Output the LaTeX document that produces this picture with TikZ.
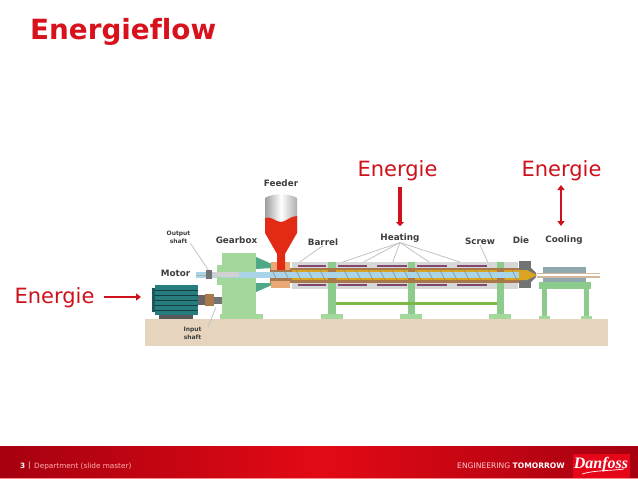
\documentclass[tikz,border=0pt]{standalone}
\usepackage{fontspec}
\setmainfont{DejaVu Sans}[Ligatures=NoCommon]
\newfontfamily\logofont{Liberation Serif}
\usetikzlibrary{arrows.meta,calc}
\definecolor{dfred}{HTML}{CE111B}
\definecolor{titlered}{HTML}{D8121C}
\definecolor{basec}{HTML}{E6D4BE}
\definecolor{greenl}{HTML}{A3D79C}
\definecolor{greenm}{HTML}{8CCB8C}
\definecolor{railc}{HTML}{7DB946}
\definecolor{labelc}{HTML}{3E3E3E}
\definecolor{leader}{HTML}{BFC4C6}
\definecolor{barrelg}{HTML}{D6D8D8}
\definecolor{heaterc}{HTML}{83466E}
\definecolor{brownc}{HTML}{A9784A}
\definecolor{screwc}{HTML}{A9D3E6}
\definecolor{tealc}{HTML}{277C7E}
\definecolor{armc}{HTML}{4FA888}
\definecolor{goldc}{HTML}{D9A520}
\definecolor{orangec}{HTML}{EBA877}
\definecolor{feedred}{HTML}{E22B14}
\definecolor{footdark}{HTML}{A60010}
\definecolor{footbright}{HTML}{E20A15}
\definecolor{logored}{HTML}{E6061A}
\definecolor{coolc}{HTML}{8FA8AE}
\tikzset{
  x=1pt,y=-1pt,
  mach/.style={font=\bfseries\fontsize{8.8}{9}\selectfont,text=labelc,inner sep=0pt,align=center},
  small/.style={font=\bfseries\fontsize{6}{8}\selectfont,text=labelc,inner sep=0pt,align=center},
  energy/.style={font=\fontsize{21}{24}\selectfont,text=dfred,inner sep=0pt},
  leadline/.style={draw=leader,line width=0.8pt},
  heatarrow/.style={draw=dfred,line width=3.6pt,-{Triangle[length=4pt,width=8pt]}},
  motorarrow/.style={draw=dfred,line width=2.8pt,-{Triangle[length=5pt,width=7pt]}},
  dblarrow/.style={draw=dfred,line width=1.8pt,{Triangle[length=5pt,width=7pt]}-{Triangle[length=5pt,width=7pt]}},
  heater/.style={fill=heaterc,draw=none},
  greenpart/.style={fill=greenm,draw=none},
  foot/.style={fill=greenl,draw=none}
}
\begin{document}
\begin{tikzpicture}
\useasboundingbox (0,0) rectangle (638,479);
\fill[white] (0,0) rectangle (638,479);
% title
\node[anchor=west,inner sep=0pt,font=\bfseries\fontsize{27.8}{30}\selectfont,text=titlered] (title) at (30,32) {Energieflow};
% base
\fill[basec] (145,319) rectangle (608,345.5);
% leaders
\node[mach] (heating) at (400,238) {Heating};
\node[mach] (barrel) at (323,242) {Barrel};
\node[mach] (screw) at (480,241.5) {Screw};
\node[small] (output) at (178.5,237) {Output\\shaft};
\node[small] (input) at (192.5,333) {Input\\shaft};
\coordinate (h1) at (340,263); \coordinate (h2) at (362,263); \coordinate (h3) at (392,264);
\coordinate (h4) at (432,264); \coordinate (h5) at (466,264);
\coordinate (barrelend) at (297,264); \coordinate (screwend) at (490,267);
\coordinate (outend) at (209,271); \coordinate (inend) at (216,307); \coordinate (instart) at (208,327);
\foreach \e in {h1,h2,h3,h4,h5} \draw[leadline] (heating.south) -- (\e);
\draw[leadline] (barrel.south) -- (barrelend);
\draw[leadline] (screw.south) -- (screwend);
\draw[leadline] (output.south east) -- (outend);
\draw[leadline] (instart) -- (inend);
% barrel
\fill[barrelg] (292,262) rectangle (518,289);
\fill[brownc] (270,267.5) rectangle (519,282.5);
\fill[goldc] (292,270) rectangle (519,280);
\foreach \a/\b in {298/326,338/367,377/407,417/447,457/487}{
  \fill[heater] (\a,264.5) rectangle (\b,266.5);
  \fill[heater] (\a,283.5) rectangle (\b,285.5);
}
% screw
\fill[screwc] (196,272) rectangle (522,278);
\foreach \i in {0,...,20}
  \draw[black!45,line width=0.6pt] ({272+\i*12},270) -- ({277+\i*12},280);
% gearbox
\fill[greenl] (217,265) rectangle (223,285);
\fill[armc] (256,257) -- (272,264) -- (272,268) -- (256,269) -- cycle;
\fill[armc] (256,292) -- (272,285) -- (272,283) -- (256,283) -- cycle;
\fill[greenl] (222,253) rectangle (256,314);
\fill[foot] (220,314) rectangle (263,319);
\fill[screwc] (222,272) rectangle (262,278);
\fill[black!18] (213,272) rectangle (239,277);
\fill[black!55] (206,270) rectangle (212,279);
\draw[black!30,line width=0.6pt] (196,275) -- (206,275);
% feed throat
\fill[orangec] (271,262) rectangle (290,270);
\fill[orangec] (271,281) rectangle (290,288);
% feeder
\shade[left color=black!38,right color=black!32,middle color=white] (265,198) .. controls (272,193) and (290,193) .. (297,198) -- (297,233) -- (265,233) -- cycle;
\fill[feedred] (265,218) .. controls (272,216) and (276,222) .. (281,222) .. controls (286,222) and (290,216) .. (297,216)
  -- (297,233) -- (285,254) -- (285,270) -- (277,270) -- (277,254) -- (265,233) -- cycle;
% motor
\fill[tealc!70!black] (152,288) rectangle (155,312);
\fill[tealc] (155,285) rectangle (198,315);
\foreach \y in {290,295,300,305,310} \draw[tealc!50!black,line width=0.6pt] (155,\y) -- (198,\y);
\fill[black!65] (159,315) rectangle (193,319);
\fill[black!60] (198,295) rectangle (205,305);
\fill[brownc] (205,294) rectangle (214,306);
\fill[black!55] (214,297) rectangle (222,304);
% supports
\foreach \a/\b/\c/\d in {328/336/321/343,408/415/400/422,497/504/489/511}{
  \fill[greenpart] (\a,262) rectangle (\b,314);
  \fill[foot] (\c,314) rectangle (\d,319);
  \fill[brownc] (\a,267.5) rectangle (\b,282.5);
  \fill[screwc] (\a,272) rectangle (\b,278);
}
\fill[railc] (336,301.5) rectangle (497,304.5);
% die
\fill[black!55] (519,261) rectangle (531,288);
\fill[black!55] (531,268) -- (536,273) -- (536,277) -- (531,282) -- cycle;
\fill[goldc] (519,270) -- (527,270) -- (537,275) -- (527,280) -- (519,280) -- cycle;
% cooling
\fill[coolc] (543,267) rectangle (586,282);
\fill[basec!70!brownc] (537,272.5) rectangle (600,277.5);
\fill[white] (537,274) rectangle (600,276);
\fill[greenm] (539,282) rectangle (591,289);
\fill[greenm] (542,289) rectangle (547,316);
\fill[greenm] (584,289) rectangle (589,316);
\fill[foot] (539,316) rectangle (550,319);
\fill[foot] (581,316) rectangle (592,319);
% machine labels
\node[mach] (feeder) at (281,183) {Feeder};
\node[mach] (gearbox) at (236.5,240.5) {Gearbox};
\node[mach] (die) at (521,240.5) {Die};
\node[mach] (cooling) at (564,240.5) {Cooling};
\node[mach] (motor) at (175.5,273) {Motor};
% energy
\node[energy] (e1) at (397.5,171) {Energie};
\node[energy] (e2) at (561.5,171) {Energie};
\node[energy] (e3) at (54.5,298) {Energie};
\coordinate (a1) at (400,187); \coordinate (a1e) at (400,226);
\coordinate (a2) at (561,185); \coordinate (a2e) at (561,226);
\coordinate (a3) at (104,297); \coordinate (a3e) at (141,297);
\draw[heatarrow] (a1) -- (a1e);
\draw[dblarrow] (a2) -- (a2e);
\draw[motorarrow] (a3) -- (a3e);
% footer
\shade[left color=footdark,right color=footbright] (0,446) rectangle (320,478);
\shade[left color=footbright,right color=footdark] (320,446) rectangle (638,478);
\fill[red!45!white] (0,478) rectangle (638,479);
\node[anchor=west,inner sep=0pt,font=\fontsize{7.3}{9}\selectfont,text=red!30!white] (foot) at (34,466) {Department (slide master)};
\node[anchor=west,inner sep=0pt,font=\bfseries\fontsize{7.3}{9}\selectfont,text=white] (num) at (20,466) {3};
\node[anchor=west,inner sep=0pt,font=\fontsize{7.3}{9}\selectfont,text=white] (bar) at (28,466) {|};
\node[anchor=west,inner sep=0pt,font=\fontsize{7.6}{9}\selectfont,text=white!80!red] (eng) at (457,466) {ENGINEERING \textbf{\textcolor{white}{TOMORROW}}};
\fill[logored] (573,454) rectangle (630,478);
\node[inner sep=0pt,font=\logofont\bfseries\itshape\fontsize{16}{18}\selectfont,text=white] (logo) at (601,464.5) {Danfoss};
\coordinate (sw1) at (582,474); \coordinate (sw2) at (624,469);
\draw[white,line width=0.7pt] (sw1) .. controls (595,470) and (610,471) .. (sw2);
\end{tikzpicture}
\end{document}
